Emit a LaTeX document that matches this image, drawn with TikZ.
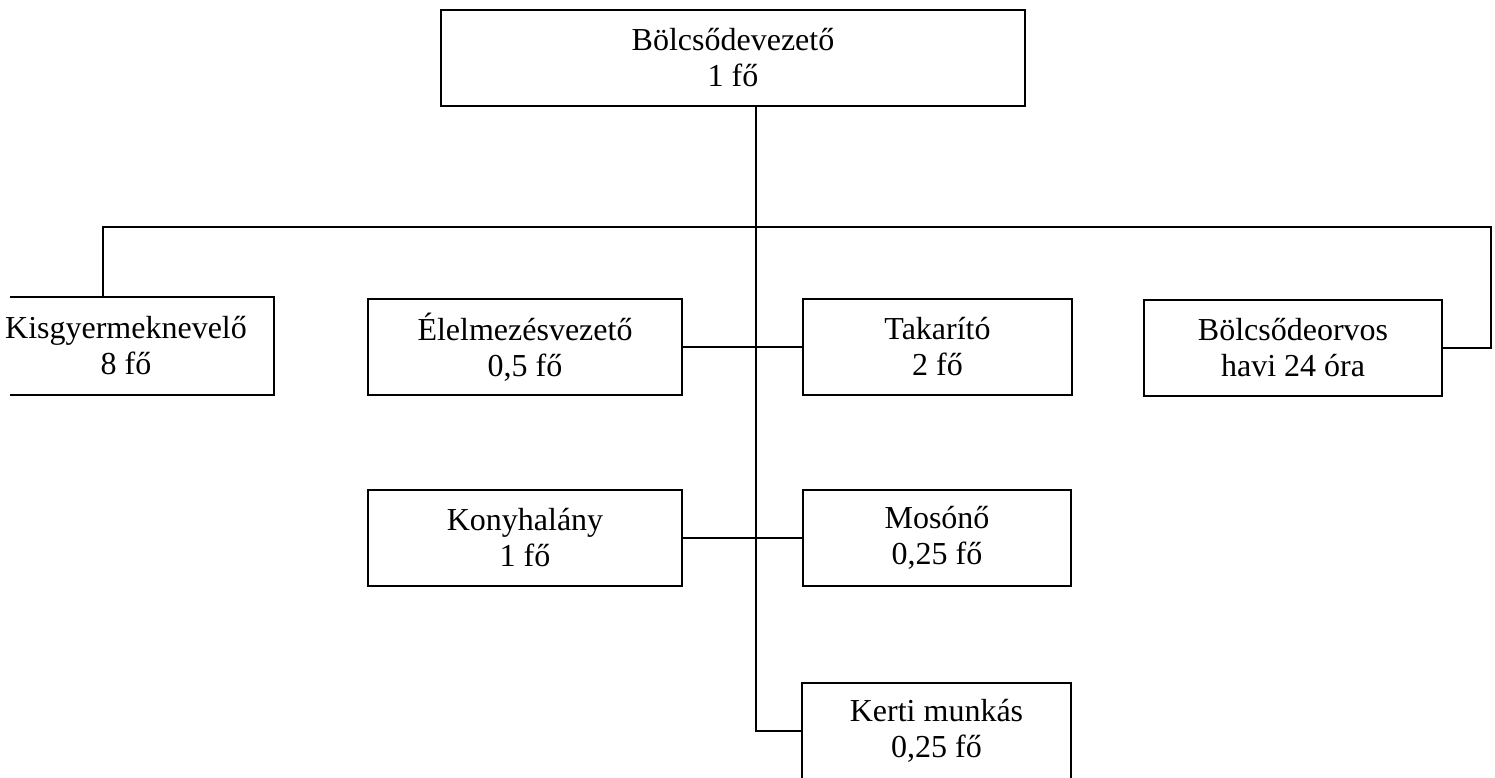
\documentclass[tikz,border=0pt]{standalone}
\usepackage{fontspec}
\setmainfont{Liberation Serif}
\begin{document}
\begin{tikzpicture}[x=1pt,y=-1pt,
  orgbox/.style={draw=black, line width=1.6pt, minimum height=96pt, inner sep=0pt,
    align=center, font=\fontsize{32}{36}\selectfont, text=black},
  link/.style={draw=black, line width=1.6pt}]
\useasboundingbox[fill=white] (0,0) rectangle (1495,777);
% boxes
\node[orgbox, minimum width=584pt] (lead) at (733,58) {Bölcsődevezető\\1 fő};
\node[orgbox, draw=none, minimum width=294pt] (kis) at (126,346) {Kisgyermeknevelő\\8 fő};
\draw[link] ([xshift=32pt]kis.north west) -- (kis.north east) -- (kis.south east) -- ([xshift=32pt]kis.south west);
\node[orgbox, minimum width=314pt] (elel) at (525,347) {Élelmezésvezető\\0,5 fő};
\node[orgbox, minimum width=269pt] (tak) at (937.5,347) {Takarító\\2 fő};
\node[orgbox, minimum width=298pt] (orv) at (1293,348) {Bölcsődeorvos\\havi 24 óra};
\node[orgbox, minimum width=314pt] (kony) at (525,538) {Konyhalány\\1 fő};
\node[orgbox, minimum width=268pt] (mos) at (937,538) {Mosónő\\0,25 fő};
\node[orgbox, minimum width=269pt] (kerti) at (936.5,731) {Kerti munkás\\0,25 fő};
% connectors
\coordinate (trunk) at (756,106);
\coordinate (bl) at (103,227);
\coordinate (br) at (1491,227);
\draw[link] (trunk) |- (kerti.west);
\draw[link] (bl |- kis.north) -- (bl) -- (br) |- (orv.east);
\draw[link] (elel.east) -- (tak.west);
\draw[link] (kony.east) -- (mos.west);
\end{tikzpicture}
\end{document}
